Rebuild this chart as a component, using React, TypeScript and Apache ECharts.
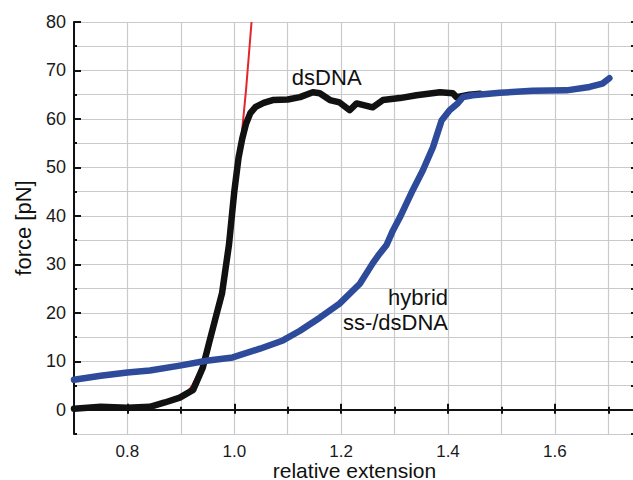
import React, { useEffect, useRef } from "react";
import * as echarts from "echarts";

// dsDNA (black)
const dsX = [0.70, 0.75, 0.80, 0.842, 0.87, 0.898, 0.923, 0.941, 0.954, 0.967, 0.977, 0.99, 1.0, 1.008, 1.015, 1.022, 1.03, 1.04, 1.055, 1.072, 1.10, 1.123, 1.147, 1.160, 1.179, 1.197, 1.216, 1.229, 1.259, 1.278, 1.31, 1.341, 1.385, 1.409, 1.416, 1.44, 1.46];
const dsF = [0.2, 0.6, 0.4, 0.6, 1.5, 2.5, 4.1, 8.7, 14.3, 19.8, 24, 34, 45, 52, 56, 59, 61.2, 62.5, 63.3, 63.9, 64.0, 64.5, 65.5, 65.3, 63.9, 63.4, 61.8, 63.2, 62.4, 63.9, 64.3, 64.9, 65.5, 65.3, 64.5, 65, 65.2];

// hybrid ss-/dsDNA (blue)
const hyX = [0.70, 0.75, 0.80, 0.842, 0.898, 0.948, 0.997, 1.048, 1.091, 1.123, 1.16, 1.197, 1.235, 1.259, 1.272, 1.285, 1.297, 1.310, 1.334, 1.353, 1.372, 1.388, 1.403, 1.418, 1.428, 1.446, 1.497, 1.558, 1.622, 1.665, 1.689, 1.702];
const hyF = [6.2, 7.0, 7.7, 8.1, 9.1, 10.1, 10.8, 12.6, 14.3, 16.3, 19, 21.9, 26, 30.2, 32.2, 34, 37, 39.7, 45.3, 49.4, 54.2, 59.7, 61.8, 63.2, 64.5, 64.9, 65.4, 65.8, 65.9, 66.6, 67.3, 68.4];

// fit (red)
const fitX = [0.908, 0.922, 0.945, 0.962, 0.978, 0.99, 1.0, 1.008, 1.015, 1.022, 1.0323];
const fitF = [2.8, 5.2, 10, 17, 25, 33, 42, 50, 58, 66, 80];

const xLabels = [0.8, 1.0, 1.2, 1.4, 1.6];
const yLabels = [0, 10, 20, 30, 40, 50, 60, 70, 80];

const annotations = [
  { text: "dsDNA", x: 1.173, y: 68.6, align: "center" },
  { text: "hybrid", x: 1.40, y: 23.2, align: "right" },
  { text: "ss-/dsDNA", x: 1.40, y: 18.0, align: "right" },
];

const zip = (xs: number[], ys: number[]) => xs.map((x, i) => [x, ys[i]]);

const FONT = "Liberation Sans";
const AX = { lineStyle: { color: "#111", width: 2 } };

export default function App() {
  const ref = useRef<HTMLDivElement>(null);
  useEffect(() => {
    if (!ref.current) return;
    const chart = echarts.init(ref.current, undefined, { renderer: "svg" });
    const xBase = { type: "value", min: 0.7, max: 1.75, interval: 0.1 };
    const yBase = { type: "value", min: -5, max: 80, interval: 5 };
    chart.setOption({
      animation: false,
      backgroundColor: "#fff",
      grid: { left: 74, top: 22, right: 5, bottom: 46, containLabel: false, outerBoundsMode: "none" },
      xAxis: [
        {
          ...xBase, position: "bottom",
          axisLine: AX,
          axisTick: { inside: true, length: 3, lineStyle: { color: "#111", width: 2 } },
          axisLabel: { customValues: xLabels, formatter: (v: number) => v.toFixed(1), fontFamily: FONT, fontSize: 17, lineHeight: 16, color: "#1a1a1a", margin: 9 },
          splitLine: { show: true, lineStyle: { color: "#cacace", width: 1.2 } },
          name: "relative extension", nameLocation: "middle", nameGap: 26, nameMoveOverlap: false,
          nameTextStyle: { fontFamily: FONT, fontSize: 21, lineHeight: 20, color: "#111" },
        },
        {
          ...xBase, position: "bottom",
          axisLine: { show: false },
          axisTick: { inside: true, length: 6, customValues: xLabels, lineStyle: { color: "#111", width: 2 } },
          axisLabel: { show: false }, splitLine: { show: false },
        },
        {
          ...xBase, position: "top",
          axisLine: AX,
          axisTick: { inside: true, length: 4, lineStyle: { color: "#111", width: 2 } },
          axisLabel: { show: false }, splitLine: { show: false },
        },
      ],
      yAxis: [
        {
          ...yBase, position: "left",
          axisLine: AX,
          axisTick: { inside: true, length: 3, lineStyle: { color: "#111", width: 2 } },
          axisLabel: { customValues: yLabels, fontFamily: FONT, fontSize: 18, color: "#1a1a1a", margin: 8 },
          splitLine: { show: true, lineStyle: { color: "#cacace", width: 1.2 } },
          name: "force [pN]", nameLocation: "middle", nameGap: 40, nameRotate: 90,
          nameTextStyle: { fontFamily: FONT, fontSize: 22, color: "#111" },
        },
        {
          ...yBase, position: "left",
          axisLine: { show: false },
          axisTick: { inside: true, length: 7, customValues: yLabels, lineStyle: { color: "#111", width: 2 } },
          axisLabel: { show: false }, splitLine: { show: false },
        },
        {
          ...yBase, position: "right",
          axisLine: AX,
          axisTick: { inside: true, length: 4, lineStyle: { color: "#111", width: 2 } },
          axisLabel: { show: false }, splitLine: { show: false },
        },
      ],
      series: [
        {
          type: "line", data: zip(fitX, fitF), showSymbol: false, symbol: "none",
          lineStyle: { color: "#e3262b", width: 2 }, z: 2,
        },
        {
          type: "line", data: zip(dsX, dsF), showSymbol: false, symbol: "none",
          lineStyle: { color: "#111", width: 6.5, join: "round", cap: "round" }, z: 3,
        },
        {
          type: "line", data: zip(hyX, hyF), showSymbol: false, symbol: "none",
          lineStyle: { color: "#2e4a9a", width: 6.5, join: "round", cap: "round" }, z: 4,
        },
      ],
    });
    const graphic = annotations.map((a) => {
      const [px, py] = chart.convertToPixel({ gridIndex: 0 }, [a.x, a.y]) as number[];
      return {
        type: "text", x: px, y: py, z: 10,
        style: { text: a.text, fill: "#111", font: `22px "${FONT}"`, align: a.align, verticalAlign: "middle" },
      };
    });
    chart.setOption({ graphic });
    return () => chart.dispose();
  }, []);
  return <div ref={ref} style={{ position: "fixed", left: 0, top: 0, width: 640, height: 480 }} />;
}
